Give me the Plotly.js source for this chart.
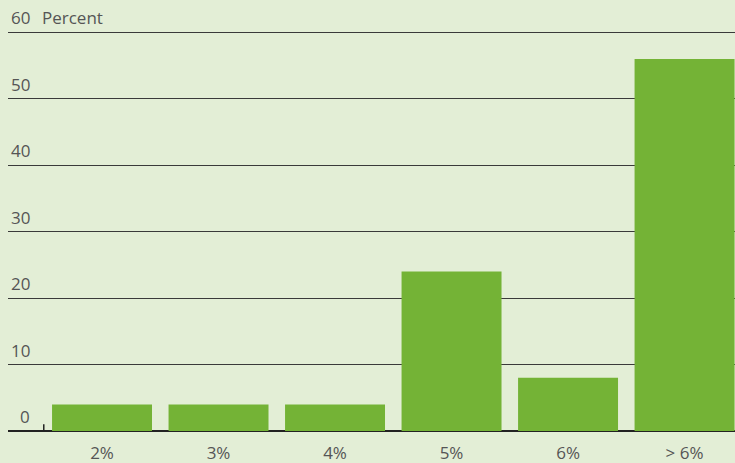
<!DOCTYPE html>
<html><head><meta charset="utf-8">
<script src="https://cdn.plot.ly/plotly-3.0.1.min.js"></script>
<style>html,body{margin:0;padding:0;background:#e3eed6;}#chart{width:735px;height:463px;}</style>
</head><body><div id="chart"></div>
<script>
const categories = ["2%", "3%", "4%", "5%", "6%", "> 6%"];
const values = [4, 4, 4, 24, 8, 56];
const yTickValues = [0, 10, 20, 30, 40, 50, 60];
const yTickLabels = ["0", "10", "20", "30", "40", "50", "60"];
const yUnit = "Percent";

const font = "'Open Sans', 'Noto Sans', sans-serif";
const grey = "#555";

const annotations = yTickValues.map((v, i) => ({
  xref: "paper", yref: "y", x: 0, y: v,
  xshift: 24, yshift: 1,
  text: yTickLabels[i], showarrow: false,
  xanchor: "right", yanchor: "bottom",
  font: {family: font, size: 17, color: grey}
}));
annotations.push({
  xref: "paper", yref: "y", x: 0, y: 60, xshift: 32, yshift: 1,
  text: yUnit, showarrow: false, xanchor: "left", yanchor: "bottom",
  font: {family: font, size: 17, color: grey}
});

const data = [{
  type: "bar", x: categories, y: values,
  marker: {color: "#74b336", line: {width: 0}},
  hoverinfo: "skip"
}];

const layout = {
  width: 735, height: 463,
  margin: {l: 8, r: 0, t: 31, b: 32, pad: 0},
  paper_bgcolor: "#e3eed6", plot_bgcolor: "#e3eed6",
  bargap: 0.142,
  showlegend: false,
  xaxis: {
    type: "category", range: [-0.807, 5.433],
    showgrid: false, zeroline: false, showline: false,
    ticks: "", tickfont: {family: font, size: 17, color: grey},
    ticklabelstandoff: 10, fixedrange: true
  },
  yaxis: {
    range: [0, 60.2], tickvals: yTickValues, showticklabels: false,
    showgrid: true, gridcolor: "#3a3a3a", gridwidth: 1.2,
    zeroline: true, zerolinecolor: "#222", zerolinewidth: 1.5,
    showline: false, ticks: "", fixedrange: true
  },
  shapes: [{
    type: "line", xref: "x", yref: "y", x0: -0.5, x1: -0.5, y0: 0, y1: 1,
    line: {color: "#222", width: 1.5}
  }],
  annotations: annotations
};

Plotly.newPlot("chart", data, layout, {displayModeBar: false, staticPlot: true});
</script></body></html>
